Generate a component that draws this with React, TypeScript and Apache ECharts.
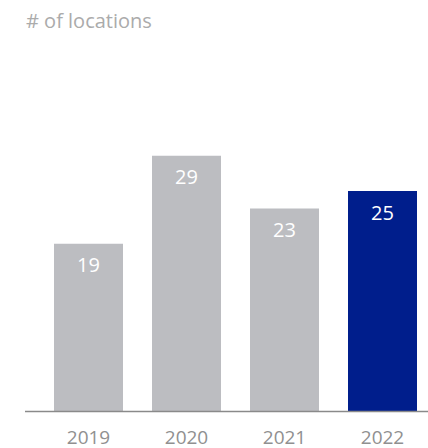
import React, { useEffect, useRef } from "react";
import * as echarts from "echarts";

const categories = ["2019", "2020", "2021", "2022"];
const values = [19, 29, 23, 25];
const highlightIndex = 3;
const titleText = "# of locations";

const FONT = "'Open Sans', 'Noto Sans', sans-serif";

export default function App() {
  const ref = useRef<HTMLDivElement>(null);
  useEffect(() => {
    if (!ref.current) return;
    const chart = echarts.init(ref.current, undefined, { renderer: "svg" });
    chart.setOption({
      animation: false,
      title: {
        text: titleText,
        left: 21,
        top: 5,
        textStyle: { fontFamily: FONT, fontSize: 20, fontWeight: 400, color: "#ababab" },
      },
      grid: { left: 39.5, top: 147, width: 392, height: 264 },
      xAxis: {
        type: "category",
        data: categories,
        axisLine: { show: false },
        axisTick: { show: false },
        axisLabel: {
          margin: 16,
          fontFamily: FONT,
          fontSize: 19,
          fontWeight: 400,
          color: "#909090",
        },
      },
      yAxis: {
        type: "value",
        min: 0,
        max: 30,
        show: false,
        splitLine: { show: false },
      },
      series: [
        {
          type: "bar",
          barWidth: 69,
          data: values.map((v, i) => ({
            value: v,
            itemStyle: { color: i === highlightIndex ? "#001e8c" : "#bcbdc1" },
          })),
          label: {
            show: true,
            position: "insideTop",
            distance: 11,
            color: "#ffffff",
            fontFamily: FONT,
            fontSize: 20,
            fontWeight: 400,
          },
        },
      ],
      graphic: [
        {
          type: "line",
          z: 100,
          shape: { x1: 25, y1: 411.5, x2: 428, y2: 411.5 },
          style: { stroke: "#8a8a8a", lineWidth: 1.5 },
        },
      ],
    });
    return () => chart.dispose();
  }, []);
  return (
    <div style={{ position: "fixed", left: 0, top: 0, width: 428, height: 448, overflow: "hidden", background: "#fff" }}>
      <div ref={ref} style={{ width: 440, height: 448 }} />
    </div>
  );
}
